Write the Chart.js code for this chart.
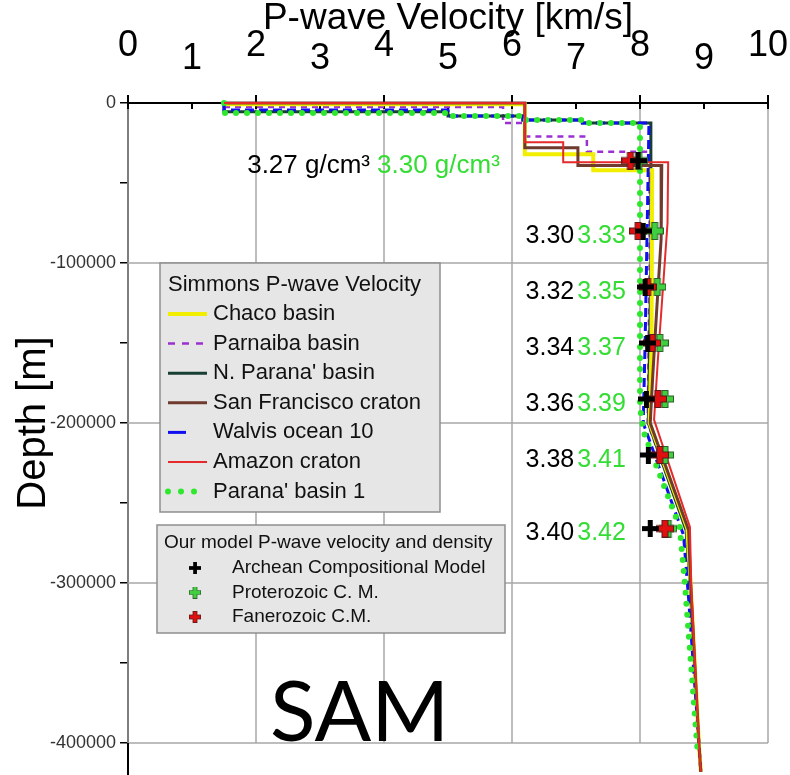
<!DOCTYPE html>
<html>
<head>
<meta charset="utf-8">
<title>SAM - P-wave velocity profiles</title>
<script src="https://cdn.jsdelivr.net/npm/chart.js@4.4.1/dist/chart.umd.min.js"></script>
<style>
  html, body { margin: 0; padding: 0; background: #fff; }
</style>
</head>
<body>
<canvas id="myChart" width="790" height="775"></canvas>
<script>
// velocity in km/s, depth in m (negative = down)
const chacoVel = [1.5, 6.2, 6.2, 7.27, 7.27, 8.19, 8.18, 8.15, 8.74, 8.79, 8.92, 8.95];
const chacoDepth = [-800, -800, -32000, -32000, -42000, -42000, -150000, -200000, -266000, -300000, -400000, -418000];

const parnaibaVel = [1.5, 5.86, 5.86, 6.2, 6.2, 7.17, 7.17, 8.15, 8.15, 8.12, 8.72, 8.78, 8.92, 8.95];
const parnaibaDepth = [-2500, -2500, -12500, -12500, -21000, -21000, -30500, -30500, -100000, -200000, -266000, -300000, -400000, -418000];

const nParanaVel = [1.5, 1.5, 5.0, 5.0, 6.17, 6.17, 7.1, 7.1, 8.17, 8.17, 8.13, 8.72, 8.78, 8.92, 8.95];
const nParanaDepth = [0, -5500, -5500, -8100, -8100, -10600, -10600, -12500, -12500, -100000, -200000, -267000, -300000, -400000, -418000];

const sanFranVel = [1.5, 6.2, 6.2, 7.03, 7.03, 8.34, 8.33, 8.26, 8.2, 8.16, 8.76, 8.79, 8.92, 8.95];
const sanFranDepth = [0, 0, -28000, -28000, -39000, -39000, -85000, -130000, -170000, -200000, -267000, -300000, -400000, -418000];

const walvisVel = [1.5, 1.5, 5.0, 5.0, 6.17, 6.17, 7.1, 7.1, 8.14, 8.12, 8.08, 8.05, 8.68, 8.76, 8.92, 8.95];
const walvisDepth = [0, -4400, -4400, -8100, -8100, -10600, -10600, -12500, -12500, -60000, -150000, -200000, -270000, -310000, -400000, -418000];

const amazonVel = [1.5, 6.2, 6.2, 6.8, 6.8, 8.44, 8.43, 8.36, 8.28, 8.22, 8.78, 8.8, 8.92, 8.95];
const amazonDepth = [0, 0, -24500, -24500, -37000, -37000, -75000, -115000, -160000, -198000, -265000, -300000, -400000, -418000];

const parana1Vel = [1.5, 1.5, 5.0, 5.0, 6.17, 6.17, 7.1, 7.1, 8.0, 8.0, 8.05, 8.62, 8.7, 8.89, 8.9];
const parana1Depth = [0, -6250, -6250, -8100, -8100, -10600, -10600, -12500, -12500, -190000, -205000, -265000, -300000, -400000, -404000];

// our model points
const markerDepth = [-36000, -80000, -115000, -150000, -185000, -220000, -266000];
const archeanVel = [7.97, 8.05, 8.08, 8.12, 8.1, 8.13, 8.16];
const proterozoicVel = [7.98, 8.23, 8.27, 8.31, 8.39, 8.39, 8.44];
const fanerozoicVel = [7.85, 7.97, 8.12, 8.19, 8.28, 8.31, 8.39];
const archeanDensity = [3.27, 3.30, 3.32, 3.34, 3.36, 3.38, 3.40];
const proterozoicDensity = [3.30, 3.33, 3.35, 3.37, 3.39, 3.41, 3.42];

const xTicks = [0, 1, 2, 3, 4, 5, 6, 7, 8, 9, 10];
const depthTicks = [0, -50000, -100000, -150000, -200000, -250000, -300000, -350000, -400000];
const gridVel = [0, 2, 4, 6, 8, 10];
const gridDepth = [-100000, -200000, -300000, -400000];
const deepest = -418000;

const simmonsTitle = 'Simmons P-wave Velocity';
const modelTitle = 'Our model P-wave velocity and density';

Chart.defaults.font.family = "'Liberation Sans', Arial, sans-serif";
Chart.defaults.color = '#000';

const pts = (xs, ys) => xs.map((v, i) => ({x: v, y: ys[i]}));

function lineSet(label, xs, ys, color, width, dash, order) {
    return {
        label: label,
        data: pts(xs, ys),
        showLine: true,
        borderColor: color,
        backgroundColor: color,
        borderWidth: width,
        borderDash: dash,
        pointRadius: 0,
        order: order,
        clip: false
    };
}

// plus shaped marker drawn on a little canvas
function makePlus(fill, edge, size, arm) {
    const c = document.createElement('canvas');
    c.width = size; c.height = size;
    const g = c.getContext('2d');
    const m = size / 2;
    let inset = 0;
    if (edge) {
        g.fillStyle = edge;
        g.fillRect(m - arm / 2 - 1, 0, arm + 2, size);
        g.fillRect(0, m - arm / 2 - 1, size, arm + 2);
        inset = 1;
    }
    g.fillStyle = fill;
    g.fillRect(m - arm / 2, inset, arm, size - 2 * inset);
    g.fillRect(inset, m - arm / 2, size - 2 * inset, arm);
    return c;
}

const plusBlack = makePlus('#000', null, 17, 5);
const plusGreen = makePlus('#3fcf3f', '#2b5f2b', 18, 5);
const plusRed = makePlus('#e01010', '#5a1a1a', 18, 5);

function markerSet(label, xs, img, order) {
    return {
        label: label,
        data: pts(xs, markerDepth),
        showLine: false,
        pointStyle: img,
        legendImg: img,
        order: order,
        clip: false
    };
}

const lineSets = [
    lineSet('Chaco basin', chacoVel, chacoDepth, '#f2ee00', 4, [], 8),
    lineSet('Parnaiba basin', parnaibaVel, parnaibaDepth, '#9b30d0', 2.5, [6, 5], 10),
    lineSet("N. Parana' basin", nParanaVel, nParanaDepth, '#173f33', 3, [], 9),
    lineSet('San Francisco craton', sanFranVel, sanFranDepth, '#6e3b2e', 3, [], 6),
    lineSet('Walvis ocean 10', walvisVel, walvisDepth, '#1010ee', 3, [9, 5], 7),
    lineSet('Amazon craton', amazonVel, amazonDepth, '#e42a2a', 2, [], 4),
    Object.assign(lineSet("Parana' basin 1", parana1Vel, parana1Depth, '#2ee82e', 6, [0, 11], 5),
        {borderCapStyle: 'round', borderJoinStyle: 'round'})
];

const markerSets = [
    markerSet('Archean Compositional Model', archeanVel, plusBlack, 1),
    markerSet('Proterozoic C. M.', proterozoicVel, plusGreen, 3),
    markerSet('Fanerozoic C.M.', fanerozoicVel, plusRed, 2)
];

// grid lines, small ticks under the top axis, and the axis running past the box
const boxGrid = {
    id: 'boxGrid',
    beforeDatasetsDraw(chart) {
        const {ctx, scales: {x, y}} = chart;
        const yTop = y.getPixelForValue(0);
        const yBot = y.getPixelForValue(gridDepth[gridDepth.length - 1]);
        ctx.save();
        ctx.strokeStyle = '#a8a8a8';
        ctx.lineWidth = 1.5;
        ctx.beginPath();
        gridVel.forEach(v => {
            const px = x.getPixelForValue(v);
            ctx.moveTo(px, yTop); ctx.lineTo(px, yBot);
        });
        gridDepth.forEach(d => {
            const py = y.getPixelForValue(d);
            ctx.moveTo(x.getPixelForValue(0), py); ctx.lineTo(x.getPixelForValue(10), py);
        });
        ctx.stroke();
        ctx.strokeStyle = '#000';
        ctx.lineWidth = 2;
        ctx.beginPath();
        xTicks.forEach(v => {
            const px = x.getPixelForValue(v);
            ctx.moveTo(px, yTop); ctx.lineTo(px, yTop + 6);
        });
        const x0 = x.getPixelForValue(0);
        ctx.moveTo(x0, yBot); ctx.lineTo(x0, y.getPixelForValue(deepest) + 4);
        ctx.stroke();
        ctx.restore();
    }
};

// density labels next to the model points
const densityLabels = {
    id: 'densityLabels',
    afterDatasetsDraw(chart) {
        const {ctx, scales: {x, y}} = chart;
        ctx.save();
        ctx.textBaseline = 'middle';
        ctx.textAlign = 'right';
        markerDepth.forEach((d, i) => {
            const py = y.getPixelForValue(d) + 5;
            const unit = i === 0 ? ' g/cm\u00b3' : '';
            const right = i === 0 ? x.getPixelForValue(5.81) : x.getPixelForValue(7.78);
            ctx.font = (i === 0 ? '26px' : '25px') + " 'Liberation Sans', Arial, sans-serif";
            const green = proterozoicDensity[i].toFixed(2) + unit;
            const black = archeanDensity[i].toFixed(2) + unit;
            ctx.fillStyle = '#33dd33';
            ctx.fillText(green, right, py);
            const gw = ctx.measureText(green).width;
            ctx.fillStyle = '#000';
            ctx.fillText(black, right - gw - (i === 0 ? 7 : 3), py);
        });
        ctx.restore();
    }
};

// the two legend boxes and the region name
const boxLegends = {
    id: 'boxLegends',
    afterDraw(chart) {
        const ctx = chart.ctx;
        ctx.save();
        // Simmons box
        ctx.fillStyle = '#e6e6e6';
        ctx.strokeStyle = '#8e8e8e';
        ctx.lineWidth = 1.5;
        ctx.fillRect(160, 263, 280, 249);
        ctx.strokeRect(160, 263, 280, 249);
        ctx.fillStyle = '#111';
        ctx.textBaseline = 'middle';
        ctx.textAlign = 'left';
        ctx.font = "22px 'Liberation Sans', Arial, sans-serif";
        ctx.fillText(simmonsTitle, 168, 285);
        lineSets.forEach((ds, i) => {
            const ly = 314 + i * 29.6;
            ctx.save();
            ctx.strokeStyle = ds.borderColor;
            ctx.lineWidth = ds.borderWidth;
            ctx.lineCap = ds.borderCapStyle || 'butt';
            let dash = ds.borderDash;
            let x1 = 207;
            if (ds.label === 'Walvis ocean 10') { dash = []; x1 = 186; }
            if (ds.label === 'Parnaiba basin') { dash = [7, 7]; }
            if (ds.label === "Parana' basin 1") { dash = [0, 13]; }
            ctx.setLineDash(dash);
            ctx.beginPath();
            ctx.moveTo(168, ly); ctx.lineTo(x1, ly);
            ctx.stroke();
            ctx.restore();
            ctx.fillStyle = '#111';
            ctx.fillText(ds.label, 213, ly);
        });
        // model box
        ctx.fillStyle = '#e6e6e6';
        ctx.fillRect(157, 525, 348, 108);
        ctx.strokeRect(157, 525, 348, 108);
        ctx.fillStyle = '#111';
        ctx.font = "19px 'Liberation Sans', Arial, sans-serif";
        ctx.fillText(modelTitle, 164, 543);
        markerSets.forEach((ds, i) => {
            const ly = 568 + i * 24.5;
            ctx.drawImage(ds.legendImg, 189, ly - 6, 12, 12);
            ctx.fillStyle = '#111';
            ctx.fillText(ds.label, 232, ly);
        });
        // region name
        ctx.fillStyle = '#000';
        ctx.font = "84px Lato, 'Noto Sans', sans-serif";
        ctx.textBaseline = 'alphabetic';
        ctx.fillText('SAM', 270, 741);
        ctx.restore();
    }
};

const ctx = document.getElementById('myChart').getContext('2d');

const myChart = new Chart(ctx, {
    type: 'scatter',
    data: {datasets: lineSets.concat(markerSets)},
    options: {
        responsive: false,
        devicePixelRatio: 1,
        animation: false,
        layout: {padding: {top: 0, left: 0, right: 22, bottom: 32}},
        scales: {
            x: {
                type: 'linear',
                position: 'top',
                min: 0,
                max: 10,
                afterBuildTicks: s => { s.ticks = xTicks.map(v => ({value: v})); },
                ticks: {
                    autoSkip: false,
                    maxRotation: 0,
                    padding: 29,
                    color: '#000',
                    font: {size: 36, lineHeight: '13px'},
                    // even numbers sit a bit higher than odd ones
                    callback: v => v % 2 === 0 ? [String(v), ''] : String(v)
                },
                grid: {
                    drawOnChartArea: false,
                    tickLength: 8,
                    lineWidth: 2,
                    color: c => (c.tick && c.tick.value % 2 === 0) ? '#000' : 'rgba(0,0,0,0)'
                },
                border: {display: true, color: '#000', width: 2},
                title: {
                    display: true,
                    text: 'P-wave Velocity [km/s]',
                    color: '#000',
                    font: {size: 37, lineHeight: 1.0},
                    padding: 0
                },
                afterFit: s => { s.height = 103; s.paddingLeft = 0; s.paddingRight = 0; }
            },
            y: {
                type: 'linear',
                position: 'left',
                min: -400000,
                max: 0,
                afterBuildTicks: s => { s.ticks = depthTicks.map(v => ({value: v})); },
                ticks: {
                    padding: 4,
                    color: '#333',
                    font: {size: 18},
                    callback: v => v % 100000 === 0 ? String(v) : ''
                },
                grid: {
                    drawOnChartArea: false,
                    tickLength: 8,
                    lineWidth: 1.5,
                    color: '#000'
                },
                border: {display: true, color: '#000', width: 2},
                title: {
                    display: true,
                    text: 'Depth [m]',
                    color: '#000',
                    font: {size: 40},
                    padding: {top: 10, bottom: 0}
                },
                afterFit: s => { s.width = 128; s.paddingTop = 0; s.paddingBottom = 0; }
            }
        },
        plugins: {
            legend: {display: false},
            tooltip: {enabled: false}
        }
    },
    plugins: [boxGrid, densityLabels, boxLegends]
});
</script>
</body>
</html>
